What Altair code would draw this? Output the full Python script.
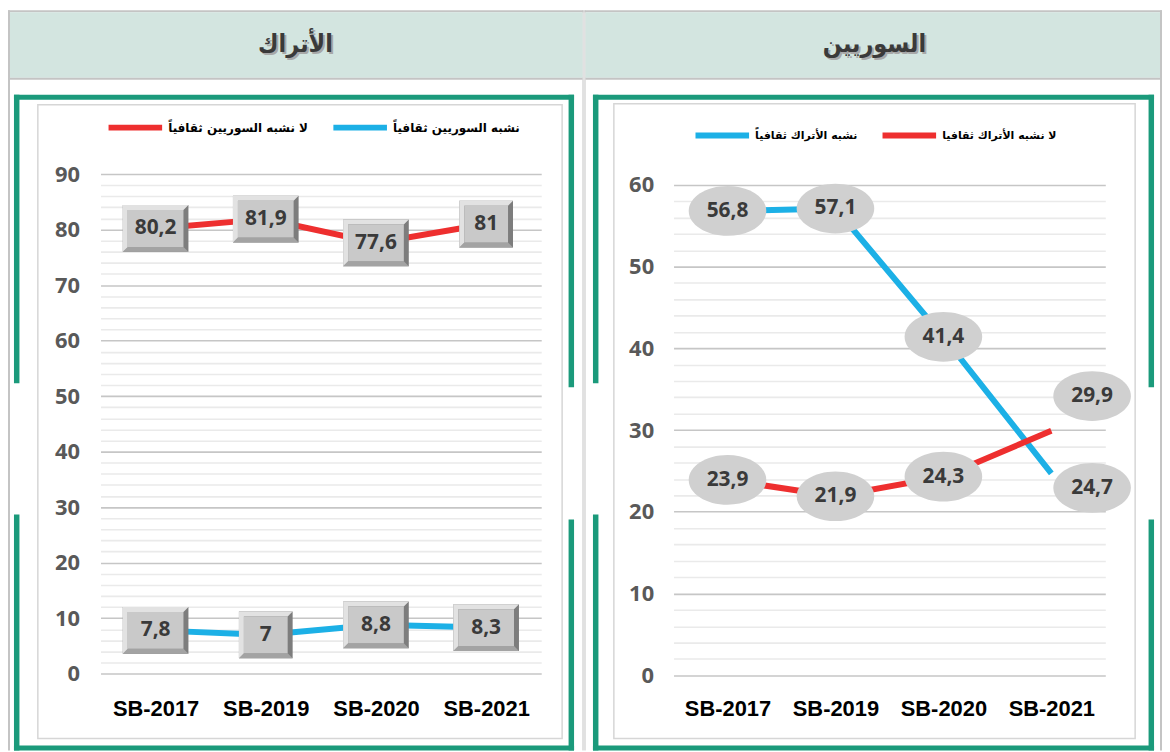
import altair as alt
import pandas as pd

# ---------------- data ----------------
categories = ["SB-2017", "SB-2019", "SB-2020", "SB-2021"]

# left panel: الأتراك
turks_not_like_syrians = [80.2, 81.9, 77.6, 81.0]
turks_like_syrians = [7.8, 7.0, 8.8, 8.3]
# right panel: السوريين
syrians_like_turks = [56.8, 57.1, 41.4, 24.7]
syrians_not_like_turks = [23.9, 21.9, 24.3, 29.9]

left_title = "الأتراك"
right_title = "السوريين"
left_series = ["لا نشبه السوريين ثقافياً", "نشبه السوريين ثقافياً"]
right_series = ["نشبه الأتراك ثقافياً", "لا نشبه الأتراك ثقافيا"]

left_ymax = 90
right_ymax = 60

# ---------------- styles ----------------
RED = "#ee2f2f"
BLUE = "#1cb0e6"
GREEN = "#1b9a7b"
GRAY = "#c4c4c4"
HEADER = "#d3e5e0"
AR_FONT = "DejaVu Sans"
TITLE_FONT = "DejaVu Sans Condensed, DejaVu Sans"
NUM_FONT = "Open Sans"

TOP, HB, BOTTOM = 8, 76, 752

dummy = pd.DataFrame({"d": [0]})


def fmt(v):
    return f"{v:g}".replace(".", ",")


def long_df(names, series_values):
    rows = []
    for name, vals in zip(names, series_values):
        for c, v in zip(categories, vals):
            rows.append({"cat": c, "value": v, "series": name, "label": fmt(v)})
    return pd.DataFrame(rows)


def rect(o, x1, y1, x2, y2, color):
    ox, oy = o
    return alt.Chart(dummy).mark_rect(color=color, strokeWidth=0).encode(
        x=alt.value(x1 - ox), x2=alt.value(x2 - ox),
        y=alt.value(y1 - oy), y2=alt.value(y2 - oy))


def frame_rect(o, x1, y1, x2, y2, color, width):
    ox, oy = o
    return alt.Chart(dummy).mark_rect(fillOpacity=0, stroke=color, strokeWidth=width).encode(
        x=alt.value(x1 - ox), x2=alt.value(x2 - ox),
        y=alt.value(y1 - oy), y2=alt.value(y2 - oy))


def title_layers(o, cx, cy, text):
    ox, oy = o
    out = []
    for d, col in ((2, "#a8a8a8"), (0, "#3a3a3a")):
        out.append(alt.Chart(dummy).mark_text(
            text=text, font=TITLE_FONT, fontSize=25, fontWeight="bold", color=col,
            align="center", baseline="middle").encode(
            x=alt.value(cx - ox + d), y=alt.value(cy - oy + d)))
    return out


def decorations(o, cell_x1, cell_x2, outer_left, outer_right, green, inner):
    layers = []
    layers.append(rect(o, cell_x1, TOP, cell_x2, TOP + 2, GRAY))
    layers.append(rect(o, outer_left[0], TOP, outer_left[1], BOTTOM, GRAY))
    layers.append(rect(o, outer_right[0], TOP, outer_right[1], BOTTOM, GRAY))
    ix1 = max(cell_x1, outer_left[1])
    ix2 = min(cell_x2, outer_right[0])
    layers.append(rect(o, ix1, TOP + 2, ix2, HB, HEADER))
    layers.append(rect(o, ix1, HB, ix2, HB + 2, GRAY))
    gx1, gx2 = green
    layers.append(rect(o, gx1, 93, gx2, 98, GREEN))
    layers.append(rect(o, gx1, 93, gx1 + 5.5, 383, GREEN))
    layers.append(rect(o, gx1, 515, gx1 + 5.5, BOTTOM, GREEN))
    layers.append(rect(o, gx2 - 5.5, 93, gx2, 387, GREEN))
    layers.append(rect(o, gx2 - 5.5, 520, gx2, BOTTOM, GREEN))
    layers.append(rect(o, gx1, BOTTOM - 5, gx2, BOTTOM, GREEN))
    layers.append(frame_rect(o, inner[0], inner[1], inner[2], inner[3], "#d6d6d6", 1.5))
    return layers


def encodings(ymax, yrange, pad_y, pad_x):
    x_enc = alt.X("cat:N", sort=categories,
                  scale=alt.Scale(type="point", padding=0.5, domain=categories),
                  axis=alt.Axis(title=None, labelAngle=0, ticks=False, domain=False, grid=False,
                                labelFont="Liberation Sans", labelFontWeight="bold",
                                labelFontSize=22, labelColor="#000000", labelPadding=pad_x))
    y_enc = alt.Y("value:Q",
                  scale=alt.Scale(domain=[0, ymax], range=yrange, nice=False, zero=True),
                  axis=alt.Axis(title=None, values=list(range(0, ymax + 1, 2)),
                                labelExpr="datum.value % 10 === 0 ? datum.label : ''",
                                labelOverlap=False, labelBound=False,
                                grid=True,
                                gridColor={"condition": {"test": "datum.value % 10 === 0",
                                                         "value": "#c6c6c6"},
                                           "value": "#eaeaea"},
                                gridWidth=1.6, ticks=False, domain=False,
                                labelFont=NUM_FONT, labelFontWeight="bold", labelFontSize=22,
                                labelColor="#595959", labelPadding=pad_y))
    return x_enc, y_enc


def legend(lx, ly, size):
    return alt.Legend(title=None, orient="none", legendX=lx, legendY=ly, direction="horizontal",
                      symbolType="stroke", symbolSize=2900, symbolStrokeWidth=6,
                      labelFont=AR_FONT, labelFontSize=size, labelFontWeight="bold",
                      labelColor="#000000", labelLimit=300, columnPadding=13, labelOffset=3)


def box_paths(w, h, b):
    W, H = w / 2, h / 2
    outer = f"M{-W},{-H}L{W},{-H}L{W},{H}L{-W},{H}Z"
    bottom = f"M{-W},{H}L{-W + b},{H - b}L{W - b},{H - b}L{W},{H}Z"
    topleft = (f"M{-W},{-H}L{W},{-H}L{W - b},{-H + b}L{-W + b},{-H + b}"
               f"L{-W + b},{H - b}L{-W},{H}Z")
    face = f"M{-W + b},{-H + b}L{W - b},{-H + b}L{W - b},{H - b}L{-W + b},{H - b}Z"
    return [outer, bottom, topleft, face]


# ---------------- left panel ----------------
OL = (101, 172.7)
df_left = long_df(left_series, [turks_not_like_syrians, turks_like_syrians])
xL, yL = encodings(left_ymax, [502.2, 0], 21, 25)

left_layers = decorations(OL, 8, 586.5, (8, 10), (585.5, 586.5), (14, 577), (38, 103, 565, 740))
left_layers += title_layers(OL, 297, 42, left_title)
left_layers.append(
    alt.Chart(df_left).mark_line(strokeWidth=6).encode(
        x=xL, y=yL,
        color=alt.Color("series:N", scale=alt.Scale(domain=left_series, range=[RED, BLUE]),
                        legend=legend(5, -76.7, 12)))
)
long_paths = box_paths(66, 47, 5)
short_paths = box_paths(54, 47, 5)
box_colors = ["#7d7d7d", "#a3a3a3", "#e2e2e2", "#c9c9c9"]
for i, col in enumerate(box_colors):
    left_layers.append(
        alt.Chart(df_left).transform_calculate(
            shp=f"length(datum.label) > 2 ? '{long_paths[i]}' : '{short_paths[i]}'"
        ).mark_point(filled=True, size=4, opacity=1, strokeWidth=0, color=col).encode(
            x=xL, y=yL, shape=alt.Shape("shp:N", scale=None))
    )
left_layers.append(
    alt.Chart(df_left).mark_text(font=NUM_FONT, fontWeight="bold", fontSize=21,
                                 color="#3a3a3a", align="center", baseline="middle").encode(
        x=xL, y=yL, text="label:N")
)
left = alt.layer(*left_layers).properties(width=443, height=502)

# ---------------- right panel ----------------
OR = (676, 172.7)
df_right = long_df(right_series, [syrians_like_turks, syrians_not_like_turks])
xR, yR = encodings(right_ymax, [503.8, 10.8], 20, 23.5)

right_layers = decorations(OR, 586.5, 1167, (586.5, 587.5), (1165, 1167), (595, 1159), (616, 102, 1140, 740))
right_layers += title_layers(OR, 878, 42, right_title)
right_layers.append(
    alt.Chart(df_right).mark_line(strokeWidth=6).encode(
        x=xR, y=yR,
        color=alt.Color("series:N", scale=alt.Scale(domain=right_series, range=[BLUE, RED]),
                        legend=legend(19, -68.7, 11)))
)
ellipse = "M-39,0A39,25 0 1 1 39,0A39,25 0 1 1 -39,0Z"
last = categories[-1]
label_groups = [
    (alt.datum.cat != last, 0, 0),
    ((alt.datum.cat == last) & (alt.datum.series == right_series[1]), 41, -35),
    ((alt.datum.cat == last) & (alt.datum.series == right_series[0]), 41, 14.5),
]
for cond, xo, yo in label_groups:
    right_layers.append(
        alt.Chart(df_right).transform_filter(cond).mark_point(
            shape=ellipse, filled=True, size=4, opacity=1, strokeWidth=0, color="#d0d0d0",
            xOffset=xo, yOffset=yo).encode(x=xR, y=yR)
    )
    right_layers.append(
        alt.Chart(df_right).transform_filter(cond).mark_text(
            font=NUM_FONT, fontWeight="bold", fontSize=21, color="#3a3a3a",
            align="center", baseline="middle", xOffset=xo, yOffset=yo).encode(
            x=xR, y=yR, text="label:N")
    )
right = alt.layer(*right_layers).properties(width=434, height=504)

chart = alt.hconcat(left, right, spacing=0).resolve_scale(
    x="independent", y="independent", color="independent"
).resolve_legend(color="independent").properties(
    padding=0, background="white"
).configure_view(stroke=None)

chart.save("out.html", embed_options={"renderer": "svg", "actions": False})
